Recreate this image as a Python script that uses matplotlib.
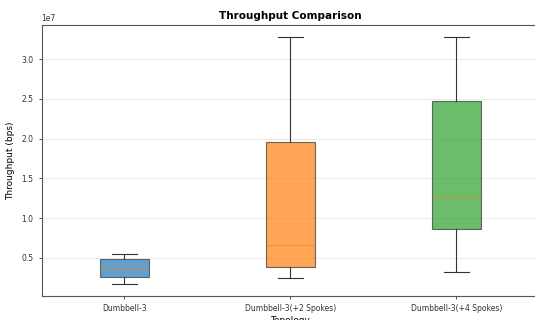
import matplotlib
matplotlib.use("Agg")
import matplotlib.pyplot as plt

categories = ["Dumbbell-3", "Dumbbell-3(+2 Spokes)", "Dumbbell-3(+4 Spokes)"]
whisker_low = [1.74e6, 2.41e6, 3.2e6]
q1 = [2.62e6, 3.80e6, 8.58e6]
median = [3.62e6, 6.57e6, 1.26e7]
q3 = [4.84e6, 1.952e7, 2.48e7]
whisker_high = [5.47e6, 3.28e7, 3.28e7]
colors = ["#1f77b4", "#ff7f0e", "#2ca02c"]

fig = plt.figure(figsize=(5.35, 3.2), dpi=100)
ax = fig.add_axes([41.5 / 535, 1 - 296 / 320, 498 / 535, (296 - 24.7) / 320])

stats = []
for i, name in enumerate(categories):
    stats.append(dict(label=name, whislo=whisker_low[i], q1=q1[i], med=median[i],
                      q3=q3[i], whishi=whisker_high[i], fliers=[]))

bp = ax.bxp(stats, patch_artist=True, widths=0.3,
            boxprops=dict(edgecolor="#333333", linewidth=0.8),
            whiskerprops=dict(color="#333333", linewidth=0.8),
            capprops=dict(color="#333333", linewidth=0.8),
            medianprops=dict(color="#ff7f0e", linewidth=0.8, alpha=0.6))
for patch, c in zip(bp["boxes"], colors):
    patch.set_facecolor(c)
    patch.set_alpha(0.7)

ax.set_xlim(0.5, 3.5)
ax.set_ylim(0.019e7, 3.435e7)
ax.yaxis.grid(True, color="#dddddd", linewidth=0.6, alpha=0.7)
ax.set_axisbelow(True)
for s in ax.spines.values():
    s.set_color("#555555")
    s.set_linewidth(0.8)
ax.spines["right"].set_visible(False)

ax.tick_params(labelsize=5.5, length=2.5, width=0.6, colors="#333333")
ax.yaxis.get_offset_text().set_fontsize(5.5)
ax.set_title("Throughput Comparison", fontsize=7.5, fontweight="bold", pad=4)
ax.set_ylabel("Throughput (bps)", fontsize=6.5)
ax.yaxis.set_label_coords(-26 / 498, 0.5)
ax.set_xlabel("Topology", fontsize=6.5)
ax.xaxis.set_label_coords(0.5, -20 / 271.3)

fig.savefig("out.png", dpi=100)
